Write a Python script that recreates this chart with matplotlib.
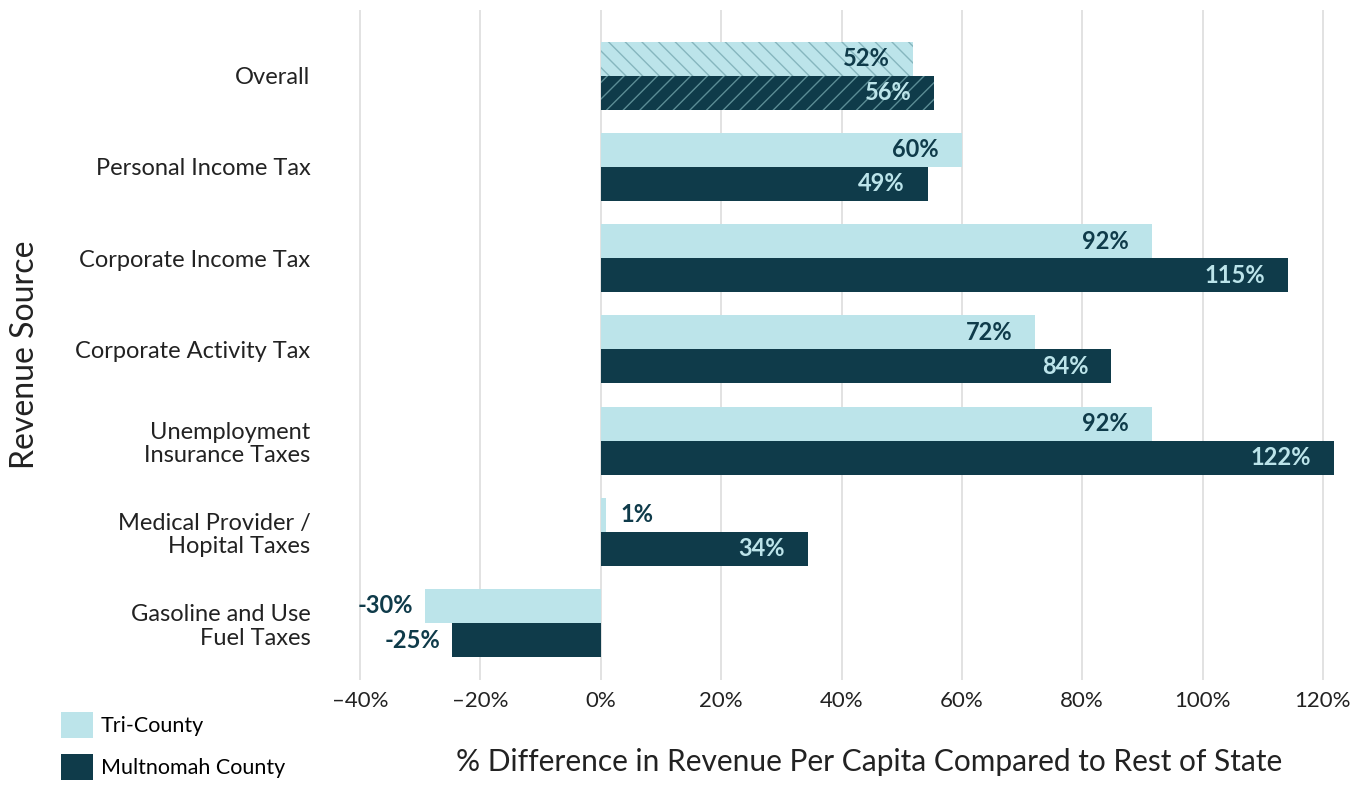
import matplotlib.pyplot as plt
import numpy as np
from matplotlib.patches import Patch

plt.rcParams['font.family'] = ['Lato', 'DejaVu Sans']

categories = ['Overall', 'Personal Income Tax', 'Corporate Income Tax', 'Corporate Activity Tax',
              'Unemployment\nInsurance Taxes', 'Medical Provider /\nHopital Taxes',
              'Gasoline and Use\nFuel Taxes']
tri_county = [51.8, 60, 91.6, 72.2, 91.6, 0.8, -29.2]
multnomah = [55.4, 54.3, 114.2, 84.8, 121.8, 34.4, -24.7]
tri_labels = ['52%', '60%', '92%', '72%', '92%', '1%', '-30%']
mult_labels = ['56%', '49%', '115%', '84%', '122%', '34%', '-25%']
xticks = [-40, -20, 0, 20, 40, 60, 80, 100, 120]

light = '#bce4ea'
dark = '#0f3b4a'

fig = plt.figure(figsize=(13.6, 7.9), dpi=100)
ax = fig.add_axes([330 / 1360, 110 / 790, 1020 / 1360, 670 / 790])

y = np.arange(len(categories))
h = 0.373
off = 0.1865

for i in range(len(categories)):
    hatch_t = '\\\\' if i == 0 else None
    hatch_m = '//' if i == 0 else None
    ax.barh(y[i] - off, tri_county[i], height=h, color=light, edgecolor='#86b6be' if i == 0 else light,
            linewidth=0, hatch=hatch_t, zorder=2)
    ax.barh(y[i] + off, multnomah[i], height=h, color=dark, edgecolor='#5b8c95' if i == 0 else dark,
            linewidth=0, hatch=hatch_m, zorder=2)

    # labels
    for val, lab, yy, col_in in [(tri_county[i], tri_labels[i], y[i] - off, dark),
                                 (multnomah[i], mult_labels[i], y[i] + off, light)]:
        if val < 0:
            ax.text(val - 2, yy, lab, ha='right', va='center', fontsize=17, fontweight='bold',
                    color=dark, zorder=3)
        elif val < 10:
            ax.text(val + 2.5, yy, lab, ha='left', va='center', fontsize=17, fontweight='bold',
                    color=dark, zorder=3)
        else:
            ax.text(val - 3.8, yy, lab, ha='right', va='center', fontsize=17, fontweight='bold',
                    color=col_in, zorder=3)

ax.set_xlim(-45, 124.5)
ax.set_ylim(6.625, -0.72)
ax.set_xticks(xticks)
ax.set_xticklabels([f'{t}%'.replace('-', '\u2013') for t in xticks], fontsize=16, color='#222222')
ax.set_yticks(y)
ax.set_yticklabels(categories, fontsize=17, color='#222222', linespacing=1.15)
ax.tick_params(length=0, axis='y', pad=14)
ax.tick_params(length=0, axis='x', pad=8)
ax.grid(axis='x', color='#dddddd', linewidth=1.2, zorder=0)
ax.set_axisbelow(True)
for s in ax.spines.values():
    s.set_visible(False)

ax.set_xlabel('% Difference in Revenue Per Capita Compared to Rest of State', fontsize=21.5,
              color='#222222', va='center')
ax.xaxis.set_label_coords((869 - 330) / 1020, -(762 - 680) / 670)
fig.text(25 / 1360, 1 - 355 / 790, 'Revenue Source', rotation=90, fontsize=23, color='#222222',
         ha='center', va='center')

handles = [Patch(facecolor=light, label='Tri-County'), Patch(facecolor=dark, label='Multnomah County')]
fig.legend(handles=handles, loc='lower left', bbox_to_anchor=(48 / 1360, -0.004), frameon=False,
           fontsize=15.5, handlelength=1.5, handleheight=1.5, handletextpad=0.35, labelspacing=0.75,
           borderpad=0.1)

fig.savefig('out.png', dpi=100)
